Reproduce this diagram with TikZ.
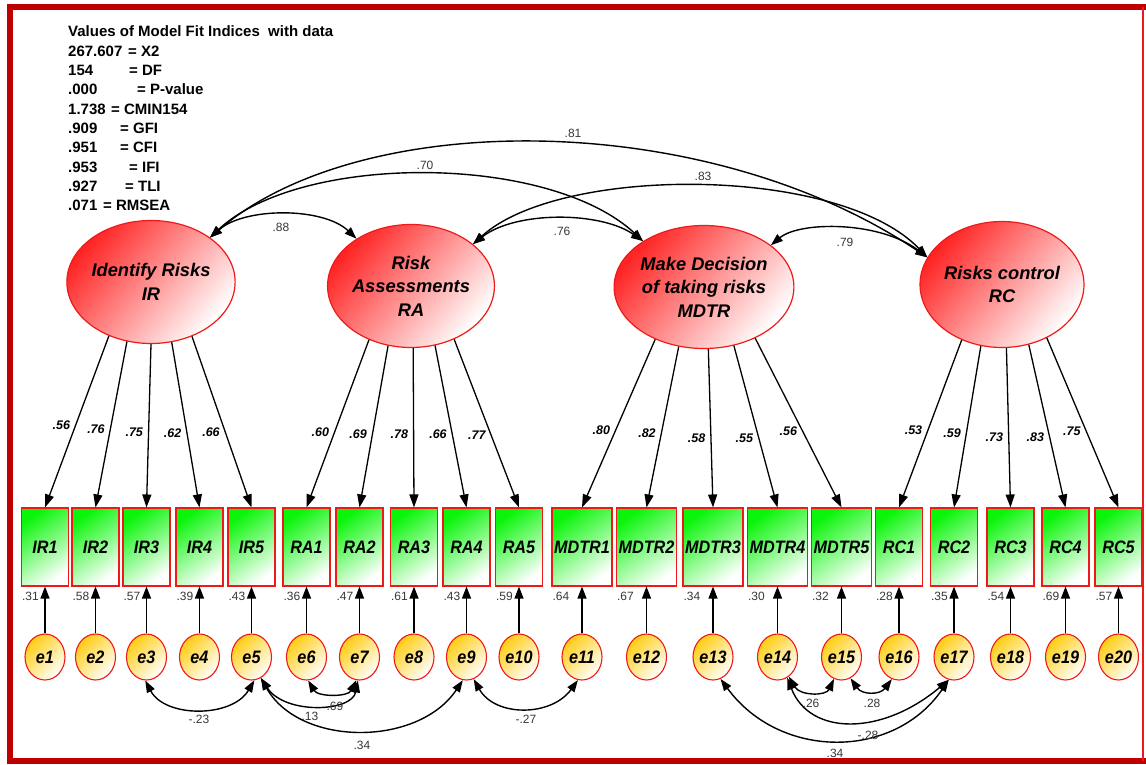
\documentclass[tikz,border=0pt]{standalone}
\usepackage{fontspec}
\setmainfont{Liberation Sans}
\newfontfamily\narrowsans[FakeStretch=0.9]{Liberation Sans}
\usetikzlibrary{arrows.meta,shapes.geometric}

\definecolor{framered}{RGB}{192,0,0}
\definecolor{latred}{RGB}{255,35,35}
\definecolor{obsgreen}{RGB}{10,245,10}
\definecolor{errgold}{RGB}{255,205,20}
\definecolor{edgered}{RGB}{240,25,25}
\definecolor{numgray}{RGB}{55,55,55}

\begin{document}
\begin{tikzpicture}[x=1pt, y=-1pt,
  latent/.style={ellipse, draw=edgered, line width=1.2pt, minimum width=160pt,
    minimum height=123pt, inner sep=0pt, top color=latred, bottom color=white,
    shading angle=50, align=center,
    font=\fontsize{18.3}{23.5}\selectfont\bfseries\itshape},
  obs/.style={rectangle, draw=edgered, line width=1.1pt, minimum width=47pt,
    minimum height=78pt, inner sep=0pt, top color=obsgreen, bottom color=white,
    shading angle=35, font=\narrowsans\fontsize{18}{19}\selectfont\bfseries\itshape,
    path picture={\draw[line width=2.2pt, black!70!red]
      (path picture bounding box.south west) -- (path picture bounding box.south east);}},
  obswide/.style={obs, minimum width=60pt},
  err/.style={ellipse, draw=edgered, line width=1.1pt, minimum width=40pt,
    minimum height=46pt, inner sep=0pt, top color=errgold, bottom color=white,
    shading angle=45, font=\narrowsans\fontsize{18}{19}\selectfont\bfseries\itshape},
  load/.style={line width=1.3pt, -{Triangle[length=13pt,width=9pt]}},
  resid/.style={line width=1.2pt, -{Triangle[length=12pt,width=9pt]}},
  cov/.style={line width=1.4pt,
    {Triangle[length=12pt,width=8.5pt]}-{Triangle[length=12pt,width=8.5pt]}},
  lodlab/.style={font=\fontsize{12.5}{13}\selectfont\bfseries\itshape, inner sep=1pt},
  covlab/.style={font=\fontsize{12}{13}\selectfont, text=numgray, inner sep=1pt},
  fitline/.style={font=\fontsize{15}{18}\selectfont\bfseries, inner sep=0pt, anchor=base west}
]
\useasboundingbox (0,0) rectangle (1146,764);

% outer frame
\draw[framered, line width=6pt] (1146,7) -- (9.7,7) -- (9.7,760.5) -- (1146,760.5);
\draw[edgered, line width=1.5pt] (1143,7) -- (1143,760.5);

% model fit summary
\node[fitline] (fit1) at (68,36.7) {Values of Model Fit Indices\ \ with data};
\foreach \k/\num/\w/\rest in {2/267.607/60/X2, 3/154/61/DF, 4/.000/69/P-value,
    5/1.738/43/CMIN154, 6/.909/52/GFI, 7/.951/52/CFI, 8/.953/61/IFI,
    9/.927/57/TLI, 10/.071/35/RMSEA}
  \node[fitline] (fit\k) at (68,{36.7+19.33*(\k-1)}) {\makebox[\w pt][l]{\num}= \rest};

% latent factors
\node[latent] (IR)   at (151,282)   {Identify Risks\\IR};
\node[latent] (RA)   at (411,286)   {Risk\\Assessments\\RA};
\node[latent] (MDTR) at (704,287)   {Make Decision\\of taking risks\\MDTR};
\node[latent, minimum width=162pt, minimum height=126pt] (RC) at (1002,284.5) {Risks control\\RC};

% indicators
\foreach \n/\x in {IR1/45, IR2/95.5, IR3/146.5, IR4/199.5, IR5/251.5,
    RA1/306.5, RA2/359.5, RA3/414, RA4/466.5, RA5/519,
    RC1/899, RC2/954, RC3/1010.5, RC4/1065.5, RC5/1118.5}
  \node[obs] (\n) at (\x,547) {\n};
\foreach \n/\x in {MDTR1/582, MDTR2/646.5, MDTR3/713, MDTR4/777.5, MDTR5/841.5}
  \node[obswide] (\n) at (\x,547) {\n};

% error terms
\foreach \i/\x in {1/45, 2/95.5, 3/146.5, 4/199.5, 5/251.5, 6/306.5, 7/359.5,
    8/414, 9/466.5, 10/519, 11/582, 12/646.5, 13/713, 14/777.5, 15/841.5,
    16/899, 17/954, 18/1010.5, 19/1065.5, 20/1118.5}
  \node[err] (e\i) at (\x,657) {e\i};

% factor loadings
\foreach \lat/\ang/\ind/\val/\p in {
    IR/232/IR1/.56/.52, IR/248/IR2/.76/.53, IR/270/IR3/.75/.54, IR/289/IR4/.62/.55, IR/307/IR5/.66/.56,
    RA/232/RA1/.60/.55, RA/249/RA2/.69/.55, RA/272/RA3/.78/.54, RA/292/RA4/.66/.55, RA/309/RA5/.77/.57,
    MDTR/227/MDTR1/.80/.54, MDTR/247/MDTR2/.82/.54, MDTR/274/MDTR3/.58/.56, MDTR/297/MDTR4/.55/.57, MDTR/315/MDTR5/.56/.55,
    RC/234/RC1/.53/.54, RC/251/RC2/.59/.54, RC/274/RC3/.73/.56, RC/294/RC4/.83/.57, RC/310/RC5/.75/.55}
  \draw[load] (\lat.\ang) -- node[lodlab, pos=\p, left=4pt] (w-\ind) {\val} (\ind.north);

% residual paths and squared multiple correlations
\foreach \i/\n/\v in {1/IR1/.31, 2/IR2/.58, 3/IR3/.57, 4/IR4/.39, 5/IR5/.43,
    6/RA1/.36, 7/RA2/.47, 8/RA3/.61, 9/RA4/.43, 10/RA5/.59,
    11/MDTR1/.64, 12/MDTR2/.67, 13/MDTR3/.34, 14/MDTR4/.30, 15/MDTR5/.32,
    16/RC1/.28, 17/RC2/.35, 18/RC3/.54, 19/RC4/.69, 20/RC5/.57} {
  \draw[resid] (e\i) -- (\n);
  \node[covlab, anchor=north west] (r\i) at ([yshift=-4pt]\n.south west) {\v};
}

% factor covariances
\draw[cov] (IR.37) .. controls (360,108) and (705,108) .. (RC.160);
\draw[cov] (IR.37) .. controls (300,153) and (548,153) .. (MDTR.143);
\draw[cov] (RA.34) .. controls (560,165) and (839,165) .. (RC.160);
\draw[cov] (IR.37) .. controls (245,207) and (323,207) .. (RA.139);
\draw[cov] (RA.34) .. controls (515,211) and (600,211) .. (MDTR.143);
\draw[cov] (MDTR.32) .. controls (800,221) and (880,221) .. (RC.160);
\node[covlab] (k81) at (573,133) {.81};
\node[covlab] (k70) at (425,165) {.70};
\node[covlab] (k83) at (703,176) {.83};
\node[covlab] (k88) at (281,227) {.88};
\node[covlab] (k76) at (562,231) {.76};
\node[covlab] (k79) at (845,242) {.79};

% error covariances
\draw[cov] (e3.-93) .. controls (165,718) and (232,718) .. (e5.-83);
\draw[cov] (e5.-66) .. controls (300,747) and (418,747) .. (e9.-99);
\draw[cov] (e5.-66) .. controls (285,715) and (352,712) .. (e7.-94);
\draw[cov] (e6.-86) .. controls (318,697) and (348,697) .. (e7.-98);
\draw[cov] (e9.-72) .. controls (495,717) and (551,717) .. (e11.-100);
\draw[cov] (e13.-71) .. controls (780,760) and (894,760) .. (e17.-103);
\draw[cov] (e14.-65) .. controls (810,736) and (882,736) .. (e17.-103);
\draw[cov] (e14.-60) .. controls (800,696) and (826,696) .. (e15.-109);
\draw[cov] (e15.-67) .. controls (862,695) and (880,695) .. (e16.-108);
\node[covlab] (k35) at (199,719) {-.23};
\node[covlab] (k59) at (362,745) {.34};
\node[covlab] (k57) at (310,716) {.13};
\node[covlab] (k67) at (335,706) {.69};
\node[covlab] (k911) at (526,719) {-.27};
\node[covlab] (k1317) at (835,753) {.34};
\node[covlab] (k1417) at (868,735) {-.28};
\node[covlab] (k1415) at (811,703) {.26};
\node[covlab] (k1516) at (872,703) {.28};
\end{tikzpicture}
\end{document}
